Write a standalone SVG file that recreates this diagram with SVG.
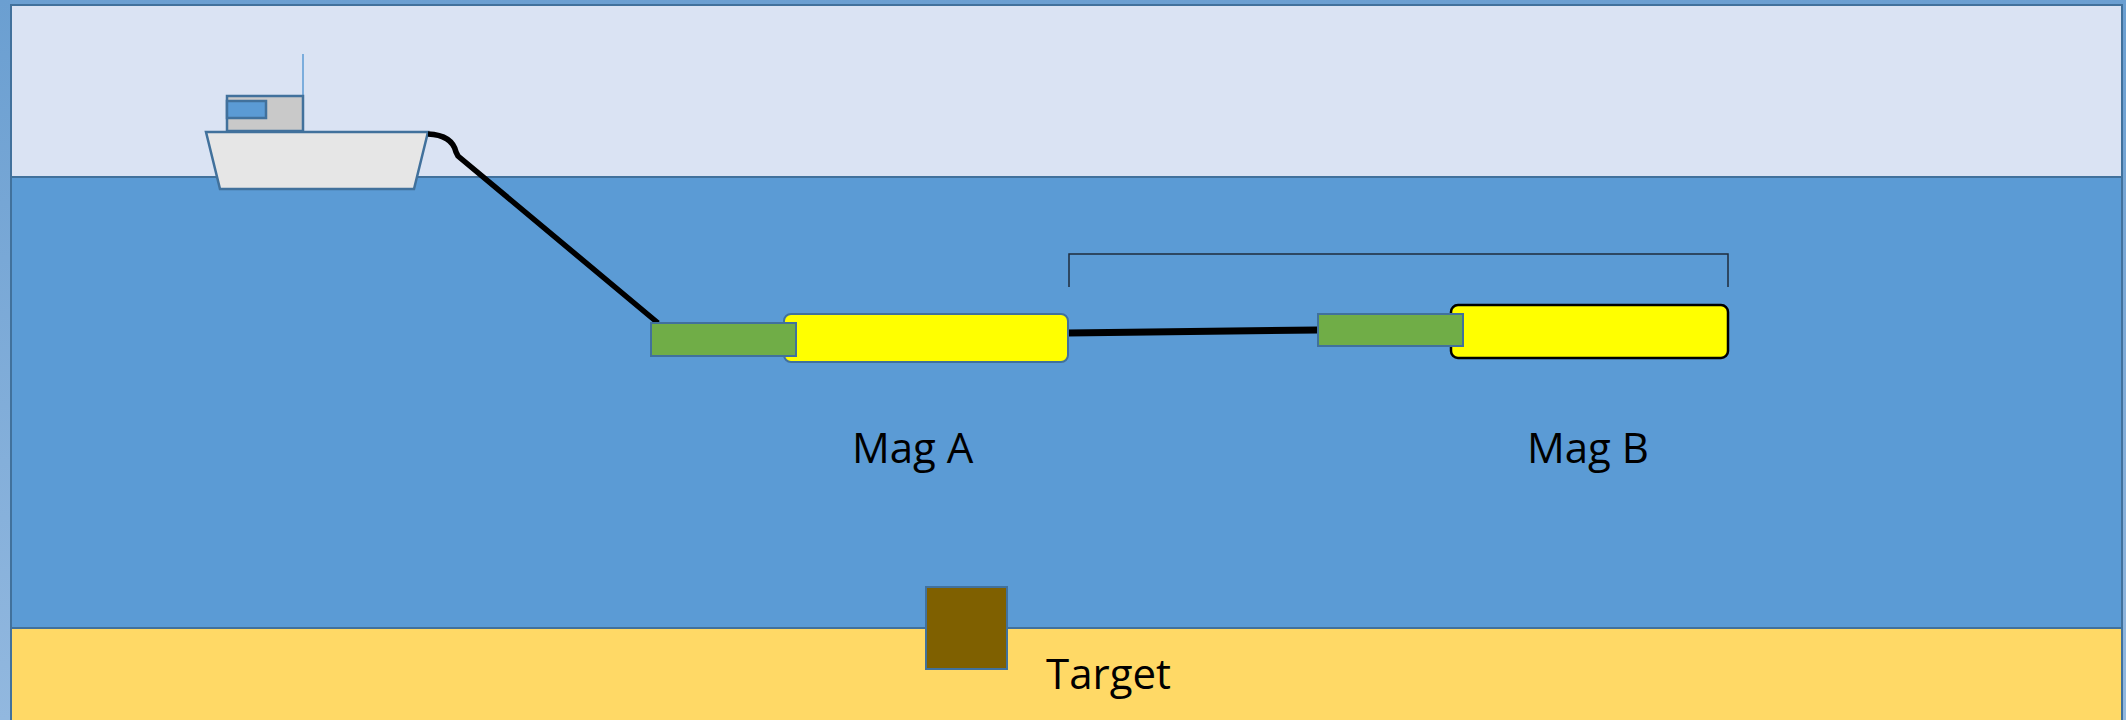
<svg xmlns="http://www.w3.org/2000/svg" width="2126" height="720" viewBox="0 0 2126 720">
  <defs>
    <linearGradient id="edge" x1="0" y1="0" x2="0" y2="1">
      <stop offset="0" stop-color="#6B9FD1"/>
      <stop offset="1" stop-color="#92B8DF"/>
    </linearGradient>
    <style>
      .layer { stroke: #41719C; stroke-width: 2; }
      .outline { stroke: #41719C; stroke-width: 2.5; }
      .cable { fill: none; stroke: #000; stroke-linecap: butt; }
      .label { font-family: "Open Sans", "Liberation Sans", sans-serif; font-size: 42px; fill: #000; }
      .sensor { fill: #70AD47; stroke: #41719C; stroke-width: 2; }
    </style>
  </defs>

  <!-- page background -->
  <rect x="0" y="0" width="2126" height="720" fill="url(#edge)"/>

  <!-- sky, water column and seabed -->
  <g id="scene">
    <rect x="11" y="5" width="2111" height="172" fill="#DAE3F3" class="layer"/>
    <rect x="11" y="177" width="2111" height="451" fill="#5B9BD5" class="layer"/>
    <rect x="11" y="628" width="2111" height="100" fill="#FFD966" class="layer"/>
  </g>

  <!-- survey vessel -->
  <g id="boat">
    <line x1="303" y1="54" x2="303" y2="96" stroke="#5B9BD5" stroke-width="1.5"/>
    <rect x="227" y="96" width="76" height="35" fill="#C9C9C9" class="outline"/>
    <rect x="227" y="101" width="39" height="17" fill="#5B9BD5" class="outline"/>
    <polygon points="206,132 428,132 414,189 220,189" fill="#E6E6E6" class="outline"/>
  </g>

  <!-- tow cables and inter-sensor separation -->
  <g id="connectors">
    <path class="cable" stroke-width="5.5" d="M428,134 Q452,135 456,152 L458,156 L658,323"/>
    <line class="cable" stroke-width="7" x1="1068" y1="333" x2="1318" y2="330"/>
    <path d="M1069,287 V254 H1728 V287" fill="none" stroke="#1F2D3D" stroke-width="1.5"/>
  </g>

  <!-- magnetometer A -->
  <g id="mag-a">
    <rect x="784" y="314" width="284" height="48" rx="7" fill="#FFFF00" stroke="#41719C" stroke-width="2"/>
    <rect x="651" y="323" width="145" height="33" class="sensor"/>
    <text x="852" y="463" class="label">Mag A</text>
  </g>

  <!-- magnetometer B -->
  <g id="mag-b">
    <rect x="1451" y="305" width="277" height="53" rx="7" fill="#FFFF00" stroke="#000" stroke-width="2.5"/>
    <rect x="1318" y="314" width="145" height="32" class="sensor"/>
    <text x="1527" y="463" class="label">Mag B</text>
  </g>

  <!-- buried target -->
  <g id="target">
    <rect x="926" y="587" width="81" height="82" fill="#7F6000" stroke="#41719C" stroke-width="2"/>
    <text x="1046" y="689" class="label">Target</text>
  </g>
</svg>
